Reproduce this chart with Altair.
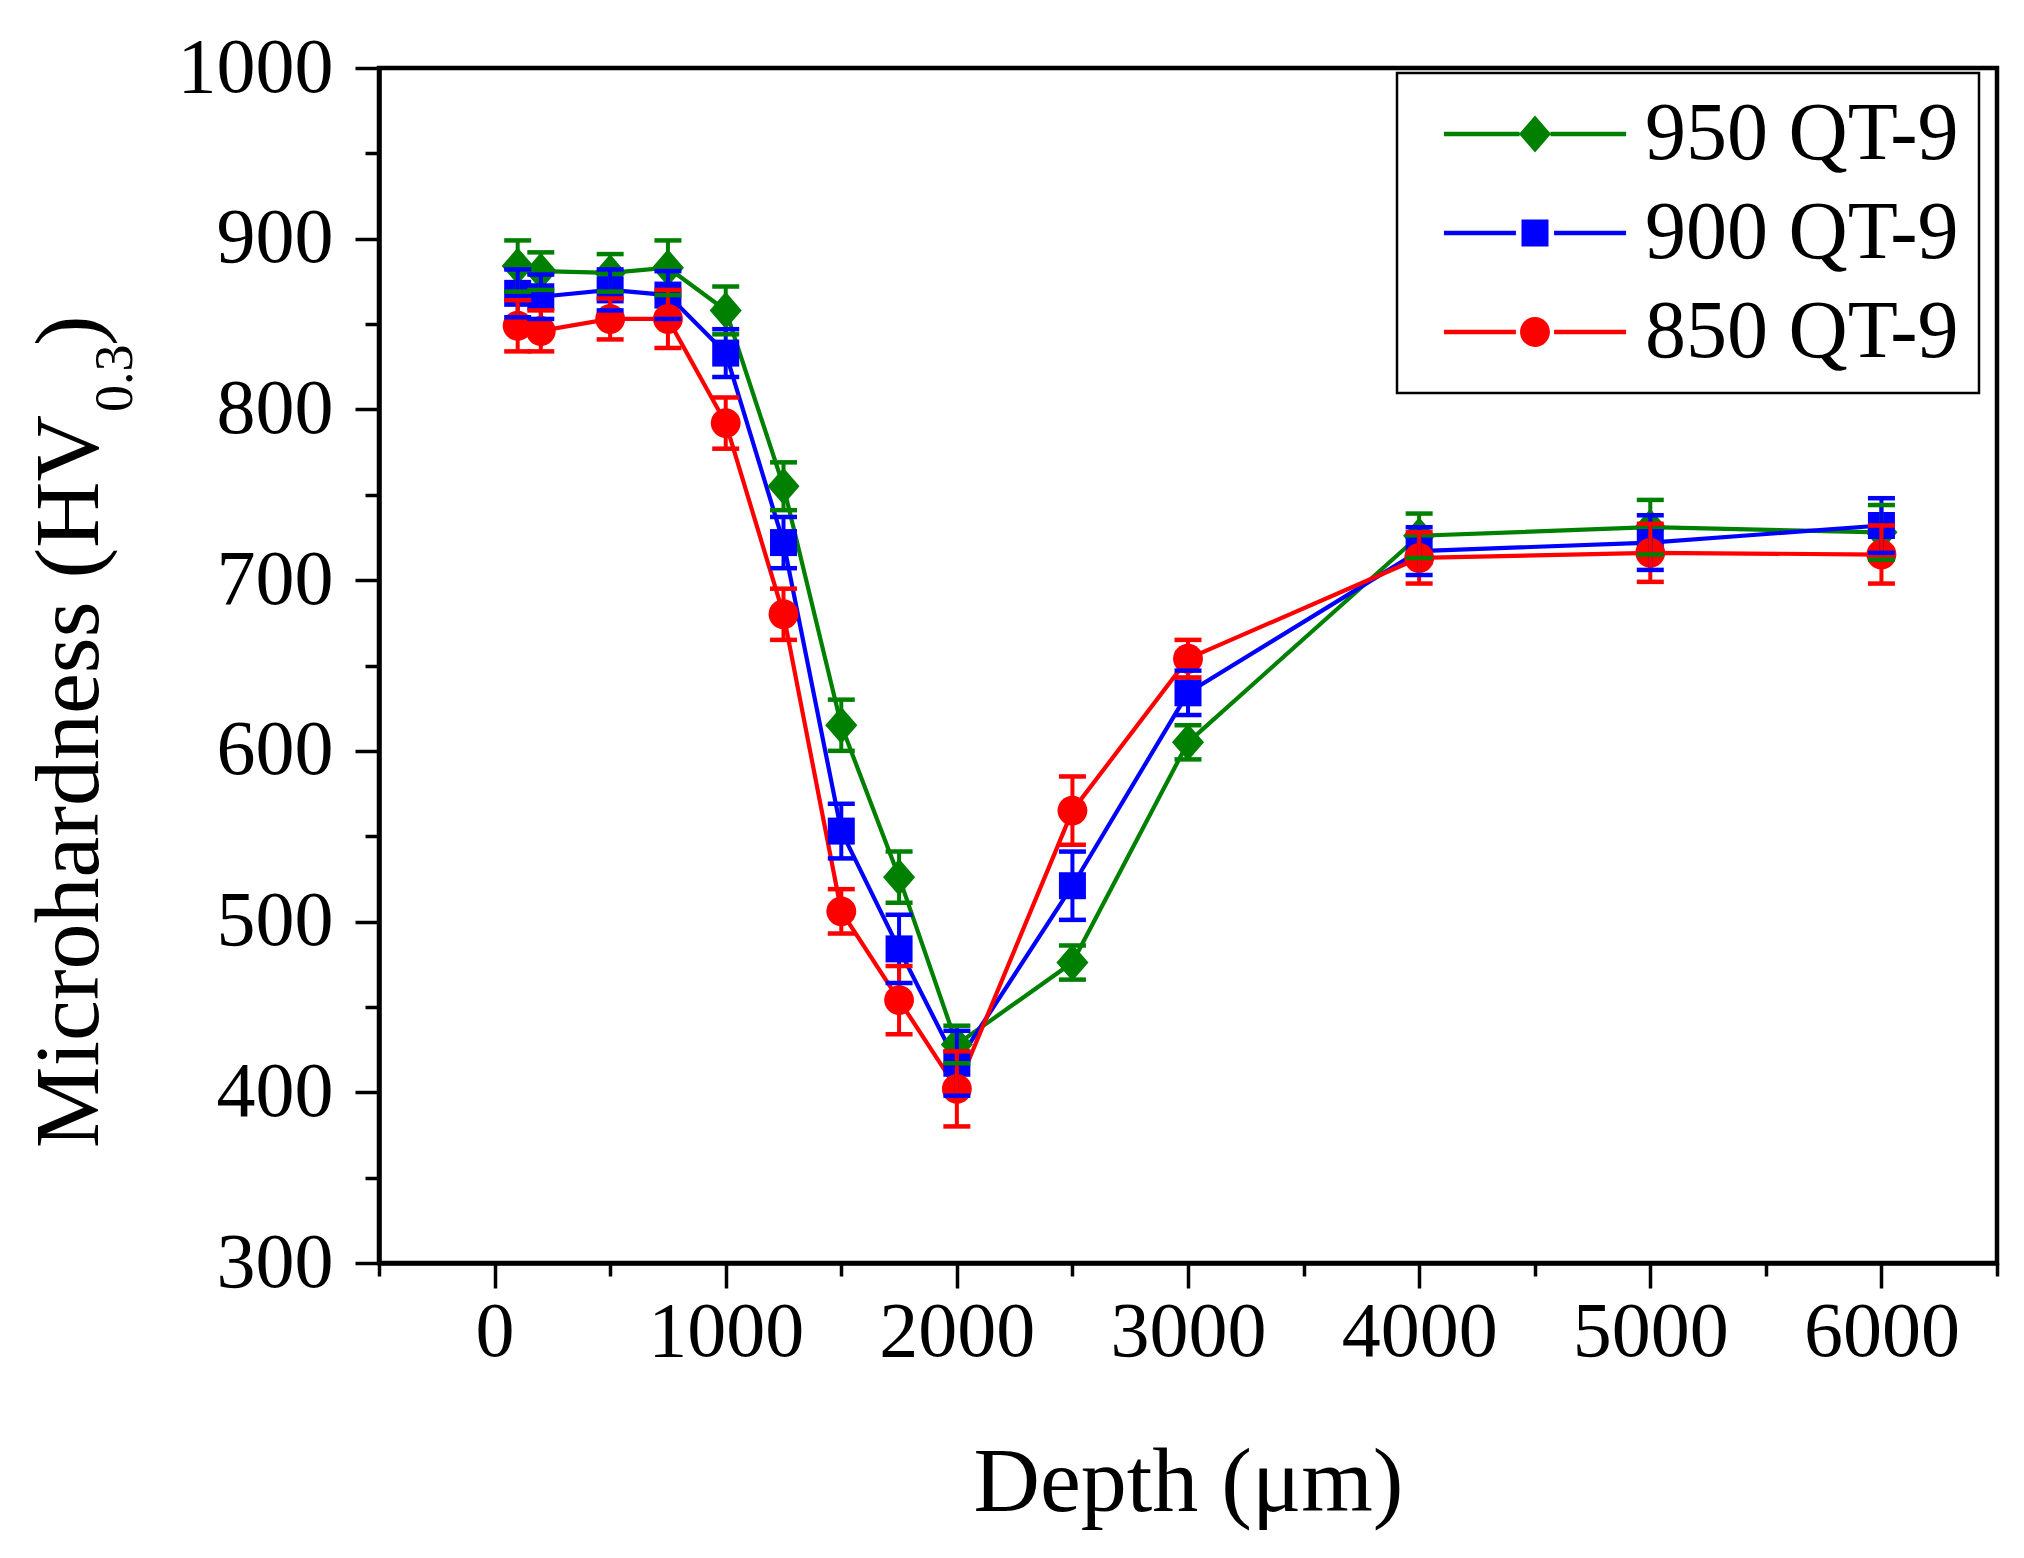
import pandas as pd
import altair as alt

# depth positions (um) and microhardness readings (HV0.3)
depth = [100, 200, 500, 750, 1000, 1250, 1500, 1750, 2000, 2500, 3000, 4000, 5000, 6000]

hv_950 = [884, 881, 880, 883, 858, 755, 615, 526, 428, 476, 605, 726, 731, 728]
err_950 = [15, 11, 11, 16, 14, 14, 15, 15, 11, 10, 10, 13, 16, 16]

hv_900 = [868, 866, 870, 867, 833, 722, 553, 484, 417, 521, 634, 717, 722, 732]
err_900 = [14, 13, 12, 14, 14, 15, 16, 20, 19, 20, 13, 14, 16, 16]

hv_850 = [849, 846, 853, 853, 792, 680, 506, 454, 402, 565, 654, 713, 716, 715]
err_850 = [15, 12, 12, 17, 15, 15, 13, 20, 22, 20, 11, 15, 17, 17]

series = ["950 QT-9", "900 QT-9", "850 QT-9"]
colors = ["#008000", "#0000FF", "#FF0000"]

x_ticks = list(range(-500, 6501, 500))
y_ticks = list(range(300, 1001, 50))

rows = []
for name, hv, err in zip(series, [hv_950, hv_900, hv_850], [err_950, err_900, err_850]):
    for d, h, e in zip(depth, hv, err):
        rows.append({"series": name, "depth": d, "hv": h, "lo": h - e, "hi": h + e})
df = pd.DataFrame(rows)

FONT = "Liberation Serif"

# marker shapes (custom svg paths, unit = sqrt(size)/2 px)
diamond = "M0,-1.03L0.89,0L0,1.03L-0.89,0Z"
square = "M-0.75,-0.75L0.75,-0.75L0.75,0.75L-0.75,0.75Z"
circle = "M-0.83,0A0.83,0.83 0 1,0 0.83,0A0.83,0.83 0 1,0 -0.83,0Z"


def seg(g):
    # line pieces either side of the legend marker
    return (f"M-5.06,-0.12L-{g},-0.12L-{g},0.12L-5.06,0.12Z "
            f"M{g},-0.12L5.06,-0.12L5.06,0.12L{g},0.12Z ")


legend_shapes = [seg(0.86) + diamond, seg(1.06) + square, seg(1.06) + circle]

x_axis = alt.Axis(
    values=x_ticks, format="d",
    labelExpr="datum.value % 1000 === 0 ? datum.label : ''",
    tickSize={"condition": {"test": "datum.value % 1000 === 0", "value": 25}, "value": 13},
    tickWidth=3.5, tickColor="black", domainColor="black", domainWidth=4.5,
    labelFont=FONT, labelFontSize=78, labelColor="black", labelPadding=5,
    labelFlush=False, labelOverlap=False, grid=False,
    title="Depth (μm)", titleFont=FONT, titleFontSize=92, titleFontWeight="normal",
    titleColor="black", titleY=247, titleBaseline="alphabetic",
)
y_axis = alt.Axis(
    values=y_ticks, format="d",
    labelExpr="datum.value % 100 === 0 ? datum.label : ''",
    tickSize={"condition": {"test": "datum.value % 100 === 0", "value": 24}, "value": 14},
    tickWidth=3.5, tickColor="black", domainColor="black", domainWidth=4.5,
    labelFont=FONT, labelFontSize=78, labelColor="black", labelPadding=22,
    labelFlush=False, labelOverlap=False, grid=False, title=None,
)

x_scale = alt.Scale(domain=[-500, 6500], nice=False, zero=False)
y_scale = alt.Scale(domain=[300, 1000], nice=False, zero=False)
X = alt.X("depth:Q", scale=x_scale, axis=x_axis)
color = alt.Color("series:N", scale=alt.Scale(domain=series, range=colors), legend=None)

lines = alt.Chart(df).mark_line(strokeWidth=4.2).encode(
    x=X, y=alt.Y("hv:Q", scale=y_scale, axis=y_axis), color=color, detail="series:N"
)

points = alt.Chart(df).mark_point(filled=True, size=1296, opacity=1, strokeWidth=0).encode(
    x=X, y=alt.Y("hv:Q", scale=y_scale, axis=y_axis), color=color,
    shape=alt.Shape("series:N", scale=alt.Scale(domain=series, range=[diamond, square, circle]),
                    legend=None),
)

bars = alt.Chart(df).mark_rule(strokeWidth=4).encode(
    x=X, y=alt.Y("lo:Q", scale=y_scale, axis=y_axis), y2="hi:Q", color=color
)

caps = alt.Chart(df).transform_fold(["lo", "hi"], as_=["end", "val"]).mark_tick(
    orient="horizontal", size=27, thickness=4.5, opacity=1
).encode(x=X, y=alt.Y("val:Q", scale=y_scale, axis=y_axis), color=color)

leg = alt.Legend(
    title=None, orient="none", legendX=1018, legendY=5, direction="vertical",
    fillColor="white", strokeColor="black", cornerRadius=0, padding=20,
    labelFont=FONT, labelFontSize=82, labelColor="black", labelLimit=0,
    labelOffset=69, symbolOffset=77, symbolSize=1296, symbolStrokeWidth=0,
    symbolOpacity=1, rowPadding=17,
)
legend_layer = alt.Chart(df).transform_filter("false").mark_point(
    filled=True, size=1296, opacity=1
).encode(
    x=X, y=alt.Y("hv:Q", scale=y_scale, axis=y_axis),
    color=alt.Color("series:N", scale=alt.Scale(domain=series, range=colors), legend=leg),
    shape=alt.Shape("series:N", scale=alt.Scale(domain=series, range=legend_shapes), legend=leg),
)

# y-axis title with subscript
title_style = dict(angle=270, align="left", baseline="alphabetic", font=FONT, color="black")
t_main = alt.Chart(pd.DataFrame({"t": ["Microhardness (HV"]})).mark_text(
    **{**title_style, "align": "right"}, fontSize=92
).encode(text="t:N", x=alt.value(-281), y=alt.value(347))
t_sub = alt.Chart(pd.DataFrame({"t": ["0.3"]})).mark_text(**title_style, fontSize=54).encode(
    text="t:N", x=alt.value(-247), y=alt.value(344)
)
t_end = alt.Chart(pd.DataFrame({"t": [")"]})).mark_text(**title_style, fontSize=92).encode(
    text="t:N", x=alt.value(-281), y=alt.value(278)
)

chart = alt.layer(
    lines, points, bars, caps, legend_layer, t_main, t_sub, t_end
).resolve_scale(
    color="independent", shape="independent"
).properties(
    width=1618, height=1195,
    autosize=alt.AutoSizeParams(type="none"),
    padding={"left": 371, "top": 60, "right": 19, "bottom": 287},
    background="white",
).configure_view(stroke="black", strokeWidth=4.5
).configure_legend(strokeWidth=2.5)

chart.save("out.html", embed_options={"renderer": "svg", "actions": False})
